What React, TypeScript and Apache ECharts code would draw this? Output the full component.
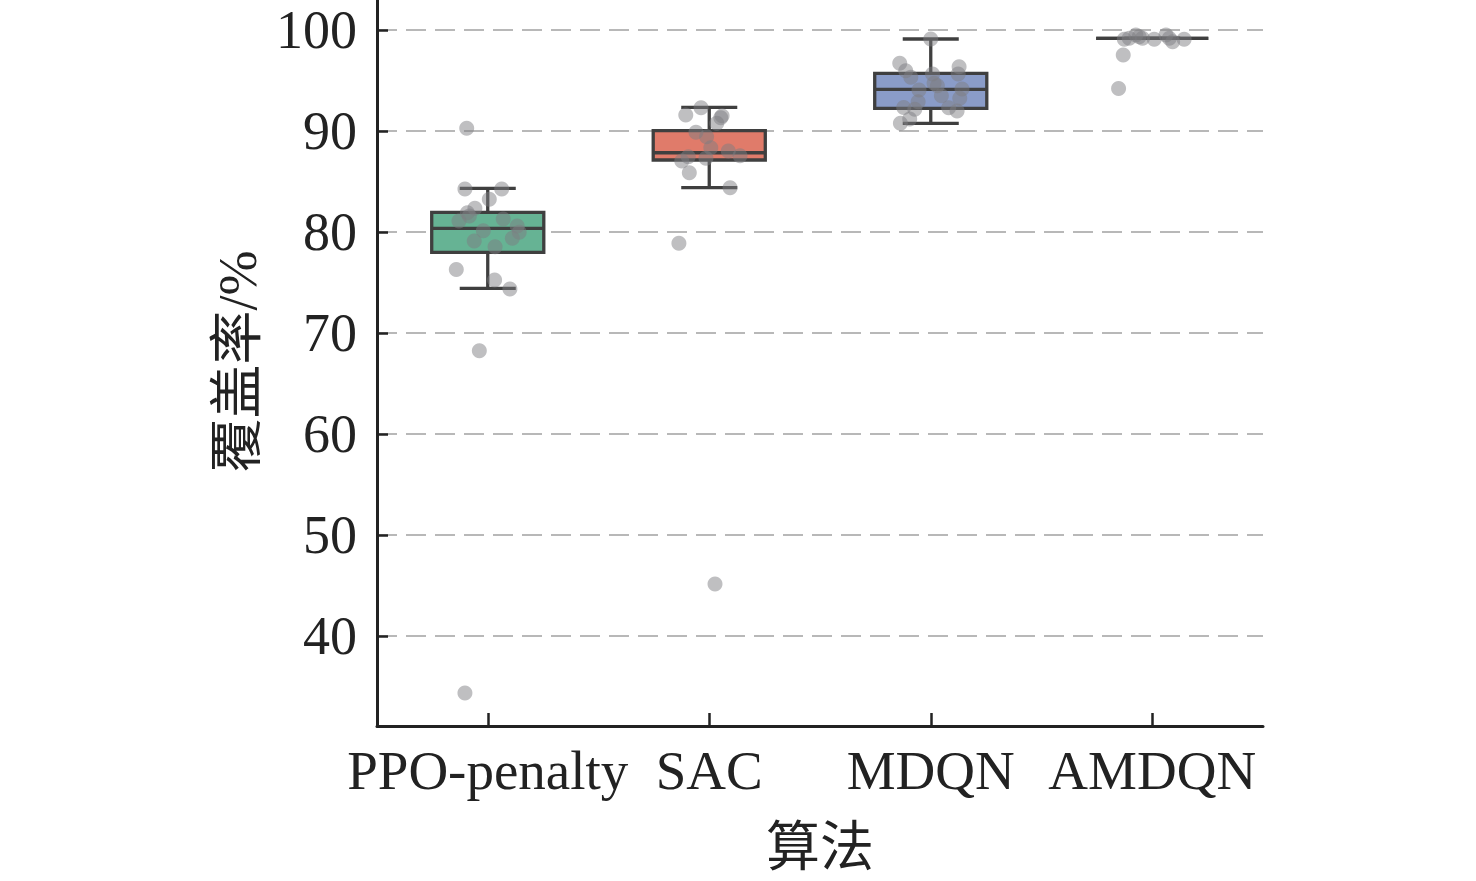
import React, { useEffect, useRef } from "react";
import * as echarts from "echarts";

const categories = ["PPO-penalty", "SAC", "MDQN", "AMDQN"];
const yTicks = [40, 50, 60, 70, 80, 90, 100];

// box stats: [whisker low, Q1, median, Q3, whisker high]
const ppoBox = [74.43, 77.99, 80.36, 81.95, 84.33];
const sacBox = [84.39, 87.13, 87.85, 90.03, 92.34];
const mdqnBox = [90.76, 92.25, 94.13, 95.71, 99.11];
const amdqnBox = [99.18, 99.18, 99.18, 99.18, 99.18];

const ppoValues = [90.27, 84.26, 84.26, 83.24, 82.35, 81.9, 81.58, 81.09, 81.29, 80.59, 80.13, 79.97, 79.11, 79.38, 78.55, 76.3, 75.25, 74.36, 68.25, 34.36];
const ppoJitter = [-0.095, -0.103, 0.063, 0.007, -0.058, -0.092, -0.083, -0.13, 0.07, 0.133, -0.02, 0.142, -0.061, 0.111, 0.033, -0.142, 0.031, 0.1, -0.038, -0.103];

const sacValues = [92.31, 91.58, 91.32, 91.5, 90.76, 89.87, 89.44, 88.35, 88.02, 87.56, 87.46, 87.03, 87.3, 85.87, 84.39, 78.88, 45.15];
const sacJitter = [-0.037, -0.106, 0.052, 0.058, 0.034, -0.06, -0.012, 0.007, 0.086, 0.139, -0.095, -0.124, -0.015, -0.09, 0.094, -0.137, 0.026];

const mdqnValues = [99.11, 96.7, 95.97, 95.32, 96.37, 95.64, 95.64, 94.72, 94.49, 94.06, 94.16, 93.5, 93.24, 92.9, 92.34, 92.15, 92.31, 91.98, 91.19, 90.76];
const mdqnJitter = [0, -0.14, -0.113, -0.09, 0.128, 0.124, 0.008, 0.015, 0.03, -0.053, 0.141, 0.048, 0.131, -0.057, -0.122, -0.072, 0.081, 0.119, -0.095, -0.137];

const amdqnValues = [99.08, 99.5, 99.18, 99.08, 99.5, 98.84, 99.08, 99.18, 99.34, 99.18, 97.52, 94.22];
const amdqnJitter = [-0.126, -0.074, -0.044, 0.009, 0.062, 0.092, 0.144, -0.104, -0.059, 0.077, -0.131, -0.152];

const boxColors = ["#66b394", "#e07b6a", "#8a9cc8", "#c98bb9"];

const FONT = "'Liberation Serif', 'Times New Roman', 'Noto Sans CJK SC', serif";

export default function App() {
  const ref = useRef<HTMLDivElement>(null);

  useEffect(() => {
    if (!ref.current) return;
    const chart = echarts.init(ref.current, undefined, { renderer: "svg" });

    const boxes = [ppoBox, sacBox, mdqnBox, amdqnBox];
    const boxData = boxes.map((b, i) => [i, ...b]);

    const groups = [
      [ppoValues, ppoJitter],
      [sacValues, sacJitter],
      [mdqnValues, mdqnJitter],
      [amdqnValues, amdqnJitter],
    ];
    const scatterData: number[][] = [];
    groups.forEach(([vals, jit], i) => {
      vals.forEach((v, k) => scatterData.push([i + jit[k], v]));
    });

    const stroke = "#3f3f3f";

    const option: any = {
      animation: false,
      backgroundColor: "#ffffff",
      grid: { left: 377, right: 213, top: 7, bottom: 155, containLabel: false },
      xAxis: [
        {
          type: "category",
          data: categories,
          boundaryGap: true,
          axisLine: { show: true, onZero: false, lineStyle: { color: "#222", width: 3 } },
          axisTick: { show: true, inside: true, length: 13, alignWithLabel: true, lineStyle: { color: "#222", width: 2.5 } },
          axisLabel: { color: "#222", fontSize: 55, fontFamily: FONT, margin: 17, interval: 0 },
          splitLine: { show: false },
          name: "算法",
          nameLocation: "middle",
          nameGap: 95,
          nameTextStyle: { color: "#222", fontSize: 54, fontFamily: FONT, verticalAlign: "top" },
        },
        {
          type: "value",
          min: -0.5,
          max: 3.5,
          show: false,
        },
      ],
      yAxis: {
        type: "value",
        min: 31.09,
        max: 103.27,
        splitNumber: 7,
        minInterval: 10,
        maxInterval: 10,
        axisLine: { show: true, onZero: false, lineStyle: { color: "#222", width: 3 } },
        axisTick: { show: true, inside: true, length: 11, lineStyle: { color: "#222", width: 2.5 } },
        axisLabel: {
          color: "#222",
          fontSize: 54,
          fontFamily: FONT,
          margin: 20,
          showMinLabel: false,
          showMaxLabel: false,
          formatter: (v: number) => (yTicks.indexOf(v) >= 0 ? String(v) : ""),
        },
        splitLine: { show: true, lineStyle: { color: "#b8b8b8", width: 2.2, type: [20, 9] } },
        name: "覆盖率/%",
        nameLocation: "middle",
        nameRotate: 90,
        nameGap: 112,
        nameTextStyle: { color: "#222", fontSize: 54, fontFamily: FONT },
      },
      series: [
        {
          type: "custom",
          xAxisIndex: 0,
          yAxisIndex: 0,
          z: 2,
          data: boxData,
          encode: { x: 0, y: [1, 2, 3, 4, 5] },
          renderItem: (params: any, api: any) => {
            const idx = api.value(0);
            const pLo = api.coord([idx, api.value(1)]);
            const pQ1 = api.coord([idx, api.value(2)]);
            const pMed = api.coord([idx, api.value(3)]);
            const pQ3 = api.coord([idx, api.value(4)]);
            const pHi = api.coord([idx, api.value(5)]);
            const band = api.size([1, 0])[0];
            const halfW = band * 0.253;
            const capHalf = halfW * 0.5;
            const x = pLo[0];
            const ls = { stroke, lineWidth: 3.3 };
            return {
              type: "group",
              children: [
                { type: "line", shape: { x1: x, y1: pLo[1], x2: x, y2: pQ1[1] }, style: ls },
                { type: "line", shape: { x1: x, y1: pQ3[1], x2: x, y2: pHi[1] }, style: ls },
                { type: "line", shape: { x1: x - capHalf, y1: pLo[1], x2: x + capHalf, y2: pLo[1] }, style: ls },
                { type: "line", shape: { x1: x - capHalf, y1: pHi[1], x2: x + capHalf, y2: pHi[1] }, style: ls },
                {
                  type: "rect",
                  shape: { x: x - halfW, y: pQ3[1], width: halfW * 2, height: pQ1[1] - pQ3[1] },
                  style: { fill: boxColors[idx], stroke, lineWidth: 3.3 },
                },
                { type: "line", shape: { x1: x - halfW, y1: pMed[1], x2: x + halfW, y2: pMed[1] }, style: ls },
              ],
            };
          },
        },
        {
          type: "scatter",
          xAxisIndex: 1,
          yAxisIndex: 0,
          z: 5,
          symbol: "circle",
          symbolSize: 15,
          itemStyle: { color: "rgba(125,125,130,0.62)" },
          data: scatterData,
        },
      ],
    };

    chart.setOption(option);
    return () => chart.dispose();
  }, []);

  return (
    <div
      ref={ref}
      style={{ position: "fixed", left: 0, top: -10, width: 1476, height: 891, background: "#fff" }}
    />
  );
}
